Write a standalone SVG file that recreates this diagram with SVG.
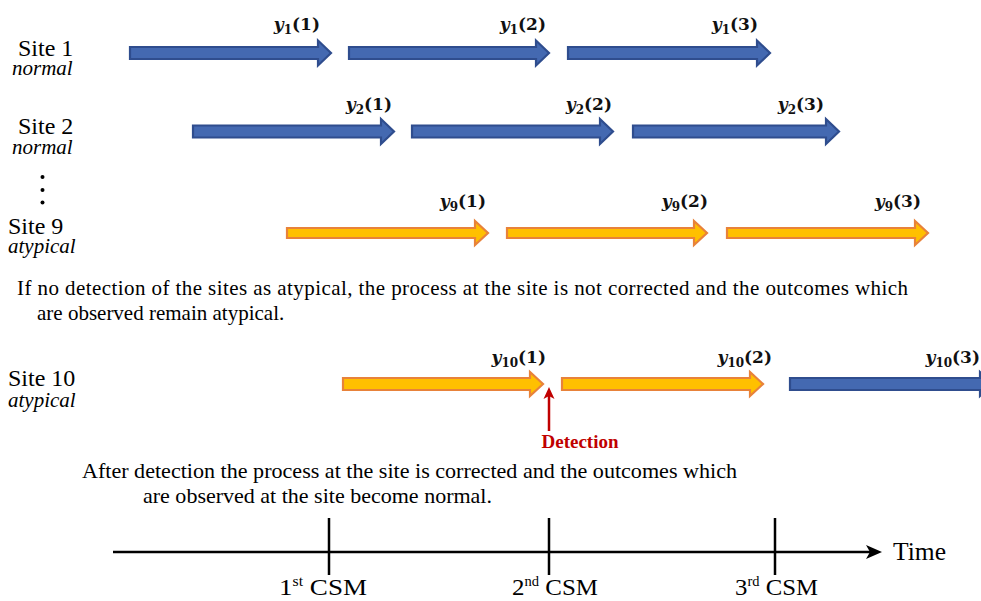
<svg xmlns="http://www.w3.org/2000/svg" width="981" height="601" viewBox="0 0 981 601">
<style>
.ab{fill:#4469B1;stroke:#2F4D8E;stroke-width:2.2}
.ao{fill:#FFC000;stroke:#E8823A;stroke-width:2.2}
.tx-site{font-size:24px;fill:#000}
.tx-stat{font-size:21px;font-style:italic;fill:#000}
.tx-lab{font-size:17px;font-weight:bold;fill:#111}
.tx-v{font-style:italic}
.tx-sub{font-size:12px}
.ax{stroke:#000;stroke-width:2.5;fill:none}
</style>

<g id="site1" font-family="Liberation Serif, serif">
<text class="tx-site" x="18" y="56">Site 1</text>
<text class="tx-stat" x="12" y="75">normal</text>
<path class="ab" d="M130,47 H318 V40.5 L331,53 L318,65.5 V59 H130 Z"/>
<path class="ab" d="M349,47 H536 V40.5 L549,53 L536,65.5 V59 H349 Z"/>
<path class="ab" d="M568,47 H757 V40.5 L770,53 L757,65.5 V59 H568 Z"/>
<g font-family="DejaVu Serif, serif" class="tx-lab" text-anchor="end">
<text x="320" y="30"><tspan class="tx-v">y</tspan><tspan class="tx-sub" dy="4">1</tspan><tspan dy="-4">(1)</tspan></text>
<text x="546" y="30"><tspan class="tx-v">y</tspan><tspan class="tx-sub" dy="4">1</tspan><tspan dy="-4">(2)</tspan></text>
<text x="758" y="30"><tspan class="tx-v">y</tspan><tspan class="tx-sub" dy="4">1</tspan><tspan dy="-4">(3)</tspan></text>
</g>
</g>

<g id="site2" font-family="Liberation Serif, serif">
<text class="tx-site" x="18" y="134">Site 2</text>
<text class="tx-stat" x="12" y="154">normal</text>
<path class="ab" d="M193,125.5 H381 V119 L394,131.5 L381,144 V137.5 H193 Z"/>
<path class="ab" d="M412,125.5 H600 V119 L613,131.5 L600,144 V137.5 H412 Z"/>
<path class="ab" d="M633,125.5 H826 V119 L839,131.5 L826,144 V137.5 H633 Z"/>
<g font-family="DejaVu Serif, serif" class="tx-lab" text-anchor="end">
<text x="392" y="110"><tspan class="tx-v">y</tspan><tspan class="tx-sub" dy="4">2</tspan><tspan dy="-4">(1)</tspan></text>
<text x="612" y="110"><tspan class="tx-v">y</tspan><tspan class="tx-sub" dy="4">2</tspan><tspan dy="-4">(2)</tspan></text>
<text x="824" y="110"><tspan class="tx-v">y</tspan><tspan class="tx-sub" dy="4">2</tspan><tspan dy="-4">(3)</tspan></text>
</g>
</g>

<g id="dots">
<circle cx="42.5" cy="177" r="2"/>
<circle cx="42.5" cy="190" r="2"/>
<circle cx="42.5" cy="202.5" r="2"/>
</g>

<g id="site9" font-family="Liberation Serif, serif">
<text class="tx-site" x="8" y="234">Site 9</text>
<text class="tx-stat" x="8" y="253">atypical</text>
<path class="ao" d="M287,228 H475 V221 L488,233 L475,245 V238 H287 Z"/>
<path class="ao" d="M507,228 H694 V221 L707,233 L694,245 V238 H507 Z"/>
<path class="ao" d="M727,228 H915 V221 L928,233 L915,245 V238 H727 Z"/>
<g font-family="DejaVu Serif, serif" class="tx-lab" text-anchor="end">
<text x="486" y="207"><tspan class="tx-v">y</tspan><tspan class="tx-sub" dy="4">9</tspan><tspan dy="-4">(1)</tspan></text>
<text x="708" y="207"><tspan class="tx-v">y</tspan><tspan class="tx-sub" dy="4">9</tspan><tspan dy="-4">(2)</tspan></text>
<text x="921" y="207"><tspan class="tx-v">y</tspan><tspan class="tx-sub" dy="4">9</tspan><tspan dy="-4">(3)</tspan></text>
</g>
</g>

<g id="note1" font-family="Liberation Serif, serif" font-size="21" fill="#000">
<text x="17" y="295" textLength="891" lengthAdjust="spacing">If no detection of the sites as atypical, the process at the site is not corrected and the outcomes which</text>
<text x="37" y="320">are observed remain atypical.</text>
</g>

<g id="site10" font-family="Liberation Serif, serif">
<text class="tx-site" x="8" y="386">Site 10</text>
<text class="tx-stat" x="8" y="407">atypical</text>
<path class="ao" d="M343,378 H530 V372 L543,384 L530,396 V390 H343 Z"/>
<path class="ao" d="M562,378 H750 V372 L763,384 L750,396 V390 H562 Z"/>
<path class="ab" d="M790,378 H980 V372 L993,384 L980,396 V390 H790 Z"/>
<g font-family="DejaVu Serif, serif" class="tx-lab" text-anchor="end">
<text x="546" y="363"><tspan class="tx-v">y</tspan><tspan class="tx-sub" dy="4">10</tspan><tspan dy="-4">(1)</tspan></text>
<text x="772" y="363"><tspan class="tx-v">y</tspan><tspan class="tx-sub" dy="4">10</tspan><tspan dy="-4">(2)</tspan></text>
<text x="980" y="363"><tspan class="tx-v">y</tspan><tspan class="tx-sub" dy="4">10</tspan><tspan dy="-4">(3)</tspan></text>
</g>
</g>

<g id="detection">
<line x1="549" y1="431" x2="549" y2="395" stroke="#C00000" stroke-width="2.5"/>
<path d="M549,387 L543.5,399 L549,396 L554.5,399 Z" fill="#C00000"/>
<text x="580" y="448" text-anchor="middle" font-family="Liberation Serif, serif" font-size="19" font-weight="bold" fill="#C00000">Detection</text>
</g>

<g id="note2" font-family="Liberation Serif, serif" font-size="22" fill="#000">
<text x="82" y="478" textLength="655" lengthAdjust="spacingAndGlyphs">After detection the process at the site is corrected and the outcomes which</text>
<text x="143" y="503" textLength="349" lengthAdjust="spacingAndGlyphs">are observed at the site become normal.</text>
</g>

<g id="timeline" font-family="Liberation Serif, serif" font-size="24" fill="#000">
<line class="ax" x1="113" y1="552" x2="872" y2="552"/>
<path d="M882,552 L866,545 L870,552 L866,559 Z" fill="#000"/>
<line class="ax" x1="329" y1="518" x2="329" y2="575"/>
<line class="ax" x1="549" y1="518" x2="549" y2="575"/>
<line class="ax" x1="775" y1="518" x2="775" y2="575"/>
<text x="893" y="560" font-size="26" textLength="53" lengthAdjust="spacingAndGlyphs">Time</text>
<text x="279" y="595" textLength="88" lengthAdjust="spacingAndGlyphs">1<tspan font-size="14" dy="-9">st</tspan><tspan dy="9"> CSM</tspan></text>
<text x="512" y="595" textLength="86" lengthAdjust="spacingAndGlyphs">2<tspan font-size="14" dy="-9">nd</tspan><tspan dy="9"> CSM</tspan></text>
<text x="735" y="595" textLength="83" lengthAdjust="spacingAndGlyphs">3<tspan font-size="14" dy="-9">rd</tspan><tspan dy="9"> CSM</tspan></text>
</g>
</svg>
